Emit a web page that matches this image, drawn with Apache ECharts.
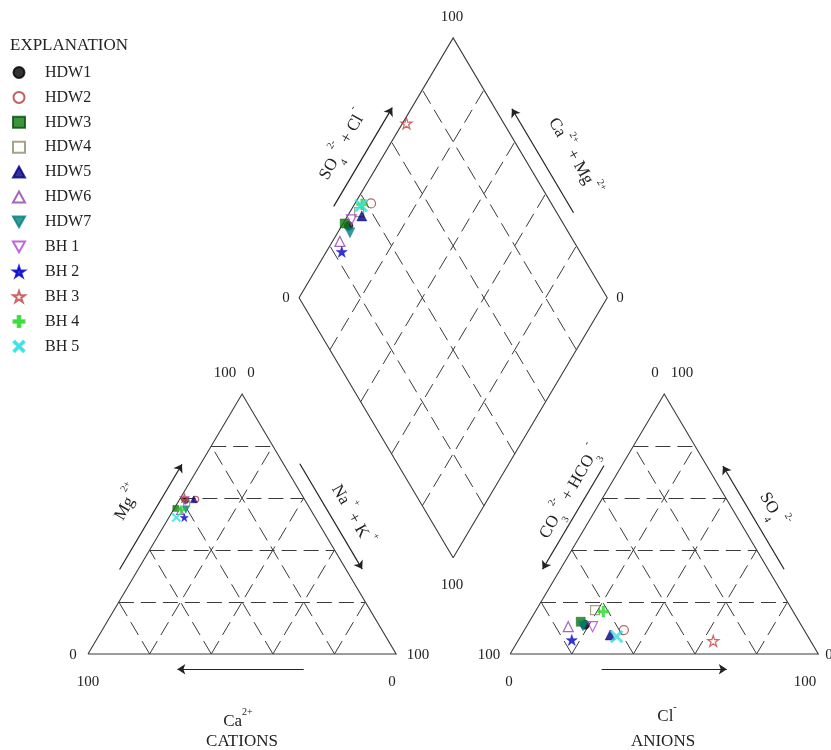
<!DOCTYPE html>
<html><head><meta charset="utf-8">
<script src="https://cdn.jsdelivr.net/npm/echarts@6/dist/echarts.min.js"></script>
<style>html,body{margin:0;padding:0;background:#fff}#c{width:831px;height:750px}</style>
</head><body><div id="c"></div>
<script>
// ---------------- DATA (percent of meq/L) ----------------
const samples = ['HDW1','HDW2','HDW3','HDW4','HDW5','HDW6','HDW7','BH 1','BH 2','BH 3','BH 4','BH 5'];
const caPct   = [38.8, 35.3, 43.5, 39.0, 35.9, 42.6, 40.5, 39.0, 42.5, 38.7, 42.0, 45.1];
const mgPct   = [59.0, 59.5, 56.0, 58.0, 59.5, 55.0, 55.5, 59.0, 52.5, 60.0, 55.5, 52.5];
const naKPct  = [ 2.2,  5.2,  0.5,  3.0,  4.6,  2.4,  4.0,  2.0,  5.0,  1.3,  2.5,  2.4];
const hco3Pct = [70.1, 58.5, 70.9, 64.0, 63.9, 75.9, 71.0, 68.0, 77.3, 31.6, 61.6, 62.1];
const so4Pct  = [11.2,  9.2, 12.4, 16.9,  7.3, 10.5, 10.8, 10.5,  5.4,  5.0, 16.3,  6.7];
const clPct   = [18.7, 32.3, 16.7, 19.1, 28.8, 13.6, 18.2, 21.5, 17.3, 63.4, 22.1, 31.2];
const gridPct = [20, 40, 60, 80];

// ---------------- STYLES ----------------
const STAR = 'path://M50,0 L61.8,35.4 L99,35.4 L69,57.3 L80.9,92.7 L50,70.8 L19.1,92.7 L31,57.3 L1,35.4 L38.2,35.4 Z';
const PLUS = 'path://M38,0 L62,0 L62,38 L100,38 L100,62 L62,62 L62,100 L38,100 L38,62 L0,62 L0,38 L38,38 Z';
const XMK  = 'path://M0,13 L13,0 L50,37 L87,0 L100,13 L63,50 L100,87 L87,100 L50,63 L13,100 L0,87 L37,50 Z';
const TRIDN = 'path://M0,0 L100,0 L50,90 Z';
const markerStyles = [
  {symbol:'circle',   color:'#000000', size:9},
  {symbol:'circle',   color:'#b03a3a', size:9,  hollow:true},
  {symbol:'rect',     color:'#0b7a0b', size:9,  border:'#064d06'},
  {symbol:'rect',     color:'#8c8c6c', size:9,  hollow:true},
  {symbol:'triangle', color:'#000080', size:10},
  {symbol:'triangle', color:'#9040a8', size:10, hollow:true},
  {symbol:TRIDN,      color:'#008080', size:10},
  {symbol:TRIDN,      color:'#b040d0', size:10, hollow:true},
  {symbol:STAR,       color:'#0000cc', size:11},
  {symbol:STAR,       color:'#c04040', size:11, hollow:true},
  {symbol:PLUS,       color:'#2ad82a', size:11},
  {symbol:XMK,        color:'#33e0e0', size:13}
];

// ---------------- PIPER GEOMETRY (side = 100 units) ----------------
const H = Math.sqrt(3) / 2;
const GAP = 37;
const AX = 100 + GAP;                  // anion triangle origin
const B = [100 + GAP / 2, GAP * H];    // diamond bottom vertex
function cat(ca, mg, nak) { const s = ca + mg + nak; return [100 * (nak + mg / 2) / s, 100 * mg * H / s]; }
function an(hco3, so4, cl) { const s = hco3 + so4 + cl; return [AX + 100 * (cl + so4 / 2) / s, 100 * so4 * H / s]; }
function dia(caMg, so4Cl) { return [B[0] + (so4Cl - caMg) / 2, B[1] + H * (caMg + so4Cl)]; }

const outline = [
  [cat(100,0,0), cat(0,0,100), cat(0,100,0), cat(100,0,0)],
  [an(100,0,0), an(0,0,100), an(0,100,0), an(100,0,0)],
  [dia(0,0), dia(100,0), dia(100,100), dia(0,100), dia(0,0)]
];
const dashed = [];
gridPct.forEach(p => {
  const q = 100 - p;
  dashed.push([cat(q,p,0), cat(0,p,q)]);
  dashed.push([cat(q,0,p), cat(0,q,p)]);
  dashed.push([cat(p,0,q), cat(p,q,0)]);
  dashed.push([an(q,p,0), an(0,p,q)]);
  dashed.push([an(q,0,p), an(0,q,p)]);
  dashed.push([an(p,0,q), an(p,q,0)]);
  dashed.push([dia(p,0), dia(p,100)]);
  dashed.push([dia(0,p), dia(100,p)]);
});
function edgeArrow(P, Q, f0, f1, d, side) {
  const dx = Q[0]-P[0], dy = Q[1]-P[1], len = Math.hypot(dx, dy);
  const nx = -dy/len*side, ny = dx/len*side;
  return [[P[0]+dx*f0+nx*d, P[1]+dy*f0+ny*d], [P[0]+dx*f1+nx*d, P[1]+dy*f1+ny*d]];
}
const cTop = cat(0,100,0), aTop = an(0,100,0);
const arrows = [
  edgeArrow(cat(0,0,100), cat(100,0,0), 0.30, 0.71, 5.1, 1),
  edgeArrow(cat(100,0,0), cTop, 0.295, 0.70, 5.2, 1),
  edgeArrow(cTop, cat(0,0,100), 0.295, 0.70, 4.6, 1),
  edgeArrow(an(100,0,0), an(0,0,100), 0.297, 0.703, 5.1, -1),
  edgeArrow(aTop, an(100,0,0), 0.305, 0.703, 5.0, -1),
  edgeArrow(an(0,0,100), aTop, 0.30, 0.697, 4.5, -1),
  edgeArrow(dia(100,0), dia(100,100), 0.32, 0.70, 5.5, 1),
  edgeArrow(dia(0,100), dia(100,100), 0.30, 0.70, 4.7, -1)
];

// ---------------- SERIES ----------------
const scatterSeries = samples.map((name, i) => {
  const st = markerStyles[i];
  const c = cat(caPct[i], mgPct[i], naKPct[i]);
  const a = an(hco3Pct[i], so4Pct[i], clPct[i]);
  const d = dia(caPct[i] + mgPct[i], so4Pct[i] + clPct[i]);
  return {
    type: 'scatter', name, symbol: st.symbol, clip: false,
    emphasis: {disabled: true}, z: 10 + i,
    itemStyle: st.hollow ? {color: 'rgba(255,255,255,0)', borderColor: st.color, borderWidth: 1.2}
                         : {color: st.color, borderColor: st.border || st.color, borderWidth: 0.5},
    data: [{value: c, symbolSize: Math.round(st.size * 0.72)}, {value: a, symbolSize: st.size}, {value: d, symbolSize: st.size}]
  };
});

const FONT = '"Liberation Serif", "Times New Roman", serif';
const rich = {
  t:   {fontSize: 17, fontFamily: FONT, fill: '#222', color: '#222', lineHeight: 30, verticalAlign: 'middle'},
  sup: {fontSize: 10, fontFamily: FONT, fill: '#222', color: '#222', verticalAlign: 'top'},
  sub: {fontSize: 10, fontFamily: FONT, fill: '#222', color: '#222', verticalAlign: 'bottom'}
};
function txt(x, y, text, size, rot, align) {
  return {type: 'text', x, y, rotation: rot || 0, silent: true,
    style: {text, fill: '#222', font: (size || 14) + 'px ' + FONT,
      align: align || 'center', verticalAlign: 'middle', textAlign: align || 'center', textVerticalAlign: 'middle', rich}};
}
const R60 = Math.PI / 3;
const graphics = [
  txt(10, 46, 'EXPLANATION', 17, 0, 'left'),
  // diamond
  txt(452, 17, '100', 15), txt(286, 298, '0', 15), txt(620, 298, '0', 15), txt(452, 585, '100', 15),
  txt(343, 145, '{t|SO}{sub|4}{sup| 2-}{t| + Cl}{sup| -}', 17, R60),
  txt(574, 157, '{t|Ca}{sup| 2+}{t| + Mg}{sup| 2+}', 17, -R60),
  // cations
  txt(225, 373, '100', 15), txt(251, 373, '0', 15),
  txt(73, 655, '0', 15), txt(88, 682, '100', 15), txt(418, 655, '100', 15), txt(392, 682, '0', 15),
  txt(128, 503, '{t|Mg}{sup| 2+}', 17, R60),
  txt(352, 515, '{t|Na}{sup| +}{t| + K}{sup| +}', 17, -R60),
  txt(238, 722, '{t|Ca}{sup|2+}', 17),
  txt(242, 742, 'CATIONS', 17),
  // anions
  txt(655, 373, '0', 15), txt(682, 373, '100', 15),
  txt(489, 655, '100', 15), txt(509, 682, '0', 15), txt(829, 655, '0', 15), txt(805, 682, '100', 15),
  txt(570, 492, '{t|CO}{sub|3}{sup| 2-}{t| + HCO}{sub|3}{sup| -}', 17, R60),
  txt(773, 510, '{t|SO}{sub|4}{sup| 2-}', 17, -R60),
  txt(667, 717, '{t|Cl}{sup|-}', 17),
  txt(663, 742, 'ANIONS', 17)
];

const chart = echarts.init(document.getElementById('c'));
chart.setOption({
  animation: false,
  backgroundColor: '#fff',
  grid: {left: 88, right: 12.7, top: 23.6, bottom: 36, containLabel: false},
  xAxis: {type: 'value', min: 0, max: 237, show: false},
  yAxis: {type: 'value', min: -20, max: 210, show: false},
  legend: {
    data: samples, orient: 'vertical', left: 12, top: 64.5, padding: 0, itemWidth: 12, itemHeight: 11, itemGap: 8.9,
    selectedMode: false, textStyle: {fontFamily: FONT, fontSize: 16, color: '#222', padding: [0, 0, 0, 15]}
  },
  graphic: graphics,
  series: [
    {type: 'lines', coordinateSystem: 'cartesian2d', polyline: true, silent: true, z: 2,
     lineStyle: {color: '#3a3a3a', width: 1.1, opacity: 1},
     data: outline.map(c => ({coords: c}))},
    {type: 'lines', coordinateSystem: 'cartesian2d', silent: true, z: 1,
     lineStyle: {color: '#3a3a3a', width: 1, type: [15, 7], opacity: 1},
     data: dashed.map(c => ({coords: c}))},
    {type: 'lines', coordinateSystem: 'cartesian2d', silent: true, z: 2,
     symbol: ['none', 'arrow'], symbolSize: [0, 8],
     lineStyle: {color: '#222', width: 1.2, opacity: 1},
     data: arrows.map(c => ({coords: c}))},
    ...scatterSeries
  ]
});
</script></body></html>
